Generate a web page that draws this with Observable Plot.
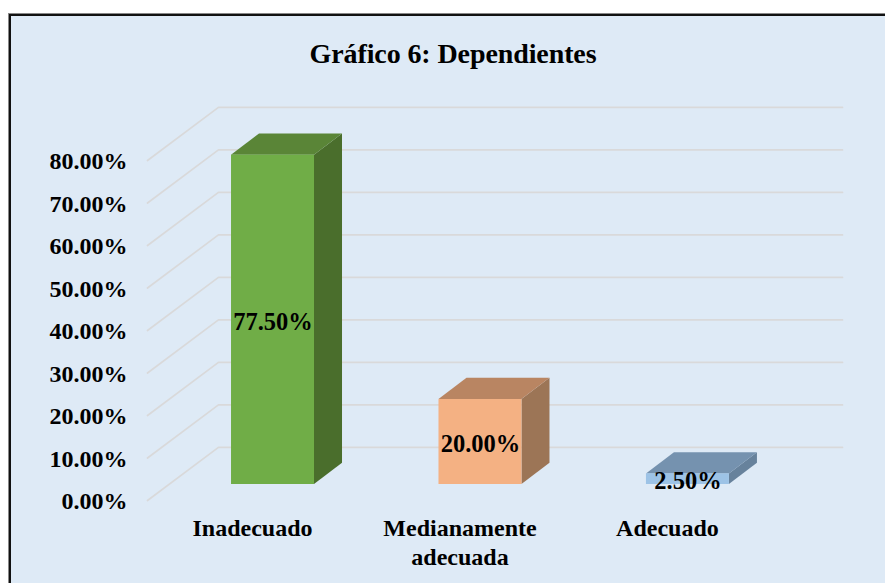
<!DOCTYPE html>
<html lang="es">
<head>
<meta charset="utf-8">
<script src="https://cdn.jsdelivr.net/npm/d3@7"></script>
<script src="https://cdn.jsdelivr.net/npm/@observablehq/plot@0.6"></script>
<style>
  html, body { margin: 0; padding: 0; background: #fff; overflow: hidden; width: 885px; height: 583px; }
  #panel { position: absolute; left: 9px; top: 14px; width: 900px; height: 600px; background: #DEEAF6;
           border: 2px solid #111; box-shadow: 0 0 0 1px #888; }
  #title { position: absolute; left: 0; width: 906px; top: 38px; text-align: center; font: bold 28px "Liberation Serif", serif;
           color: #000; line-height: 32px; letter-spacing: -0.1px; }
  #chart { position: absolute; left: 0; top: 0; }
  #chart svg { background: transparent; display: block; }
</style>
</head>
<body>
<div id="panel"></div>
<div id="chart"></div>
<div id="title">Gráfico 6: Dependientes</div>
<script>
const titleText = "Gráfico 6: Dependientes";
const categories = ["Inadecuado", "Medianamente\nadecuada", "Adecuado"];
const values = [77.5, 20, 2.5];
const frontColors = ["#70AD47", "#F4B183", "#9DC3E6"];
const topColors = ["#5A8537", "#B98562", "#7592AF"];
const sideColors = ["#4A6E2C", "#9C7556", "#67829C"];
const yTicks = [0, 10, 20, 30, 40, 50, 60, 70, 80];

// Perspective of the chart, in axis units
const barHalf = 0.2, depthX = 0.135, depthY = 5;
const floorX = 0.342, floorY = 12.5;
const xMin = -0.605, xMax = 2.745;
const lift = -16; // bars stand a little behind the floor's front edge

const bars = values.map((v, i) => ({i, v, label: categories[i], front: frontColors[i], top: topColors[i], side: sideColors[i]}));

const sidePts = bars.flatMap(b => [
  {x: b.i + barHalf, y1: 0, y2: b.v, fill: b.side},
  {x: b.i + barHalf + depthX, y1: depthY, y2: b.v + depthY, fill: b.side}
]);
const topPts = bars.flatMap(b => [
  {x: b.i - barHalf, y1: b.v, y2: b.v, fill: b.top},
  {x: b.i - barHalf + depthX, y1: b.v, y2: b.v + depthY, fill: b.top},
  {x: b.i + barHalf, y1: b.v, y2: b.v + depthY, fill: b.top},
  {x: b.i + barHalf + depthX, y1: b.v + depthY, y2: b.v + depthY, fill: b.top}
]);
const gridPts = yTicks.flatMap(t => [
  {x: xMin, y: t, t},
  {x: xMin + floorX, y: t + floorY, t},
  {x: xMax, y: t + floorY, t}
]);

const serif = '"Liberation Serif", serif';
const chart = Plot.plot({
  width: 885,
  height: 583,
  marginLeft: 147,
  marginRight: 43,
  marginTop: 0,
  marginBottom: 83,
  style: {background: "transparent", fontFamily: serif},
  color: {type: "identity"},
  x: {domain: [xMin, xMax], axis: null},
  y: {domain: [0, 80], range: [500, 160], label: null},
  marks: [
    Plot.axisY(yTicks, {
      tickSize: 0, tickPadding: 20, label: null,
      tickFormat: d => d.toFixed(2) + "%",
      fontSize: 24, fontWeight: "bold", fill: "#000", dy: 1
    }),
    Plot.line(gridPts, {x: "x", y: "y", z: "t", stroke: "#D9D9DA", strokeWidth: 1.7}),
    Plot.areaY(sidePts, {x: "x", y1: "y1", y2: "y2", fill: "fill", z: "fill", dy: lift}),
    Plot.areaY(topPts, {x: "x", y1: "y1", y2: "y2", fill: "fill", z: "fill", dy: lift}),
    Plot.rect(bars, {x1: b => b.i - barHalf, x2: b => b.i + barHalf, y1: 0, y2: "v", fill: "front", dy: lift}),
    Plot.text(bars, {
      x: "i", y: b => b.v / 2, text: b => b.v.toFixed(2) + "%",
      dy: lift + 2, fontSize: 24.5, fontWeight: "bold", fill: "#000"
    }),
    Plot.text(bars, {
      x: "i", y: 0, text: "label", dx: -20.5, dy: 15, lineAnchor: "top",
      lineHeight: 1.2, fontSize: 24, fontWeight: "bold", fill: "#000"
    })
  ]
});
document.getElementById("chart").append(chart);
document.getElementById("title").textContent = titleText;
</script>
</body>
</html>
